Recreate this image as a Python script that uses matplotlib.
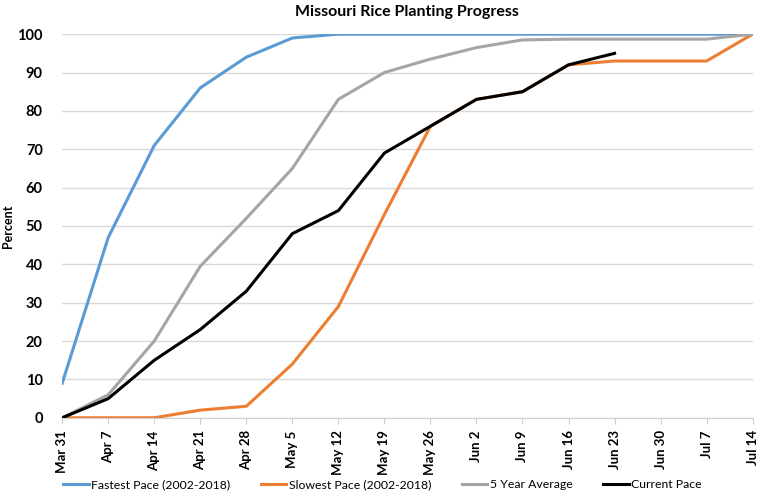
import matplotlib.pyplot as plt
import numpy as np

weeks = ["Mar 31", "Apr 7", "Apr 14", "Apr 21", "Apr 28", "May 5", "May 12", "May 19",
         "May 26", "Jun 2", "Jun 9", "Jun 16", "Jun 23", "Jun 30", "Jul 7", "Jul 14"]
fastest = [9, 47, 71, 86, 94, 99, 100, 100, 100, 100, 100, 100, 100, 100, 100, 100]
slowest = [0, 0, 0, 2, 3, 14, 29, 53, 76, 83, 85, 92, 93, 93, 93, 100]
five_year = [0, 6, 20, 39.5, 52, 65, 83, 90, 93.5, 96.5, 98.5, 98.7, 98.7, 98.7, 98.7, 100]
current = [0, 5, 15, 23, 33, 48, 54, 69, 76, 83, 85, 92, 95]

plt.rcParams['font.family'] = ['Lato', 'DejaVu Sans']

fig = plt.figure(figsize=(7.68, 4.95), dpi=100)
ax = fig.add_axes([0.081, 0.156, 0.899, 0.775])

x = np.arange(len(weeks))
ax.plot(x, fastest, color="#5B9BD5", lw=2.2, label="Fastest Pace (2002-2018)")
ax.plot(x, slowest, color="#ED7D31", lw=2.2, label="Slowest Pace (2002-2018)")
ax.plot(x, five_year, color="#A5A5A5", lw=2.2, label="5 Year Average")
ax.plot(np.arange(len(current)), current, color="black", lw=2.2, label="Current Pace")

ax.set_xlim(0, len(weeks) - 1)
ax.set_ylim(0, 100)
ax.set_yticks(range(0, 101, 10))
ax.set_xticks(x)
ax.set_xticklabels(weeks, rotation=90, fontsize=9.5, fontweight="bold")
for lab in ax.get_yticklabels():
    lab.set_fontweight("bold")
    lab.set_fontsize(10.5)
ax.tick_params(axis="y", length=0, pad=14)
ax.tick_params(axis="x", length=4, color="#D0D0D0", pad=5)
ax.grid(axis="y", color="#D9D9D9", lw=1)
ax.set_axisbelow(True)
for s in ["top", "right", "left"]:
    ax.spines[s].set_visible(False)
ax.spines["bottom"].set_color("#D0D0D0")

ax.set_ylabel("Percent", fontsize=9, fontweight="bold", labelpad=2)
ax.set_title("Missouri Rice Planting Progress", fontsize=11.5, fontweight="bold", pad=13)

fig.legend(loc="lower center", bbox_to_anchor=(0.498, -0.012), ncol=4, frameon=False,
           fontsize=8.8, handlelength=2.1, handletextpad=0.2, columnspacing=2.5)

fig.savefig("out.png", dpi=100)
